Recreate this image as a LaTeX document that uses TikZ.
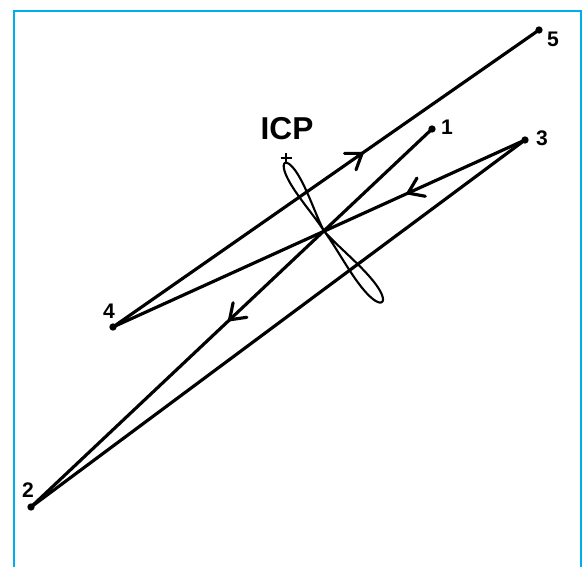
\documentclass[tikz,border=0pt]{standalone}
\usepackage{fontspec}
\setmainfont{Liberation Sans}
\usetikzlibrary{arrows.meta,decorations.markings}
\tikzset{
  dot/.style   ={circle, fill=black, inner sep=0pt, minimum size=2.2mm},
  num/.style   ={font=\fontsize{18}{18}\selectfont\bfseries, inner sep=0pt},
  big/.style   ={font=\fontsize{27}{27}\selectfont\bfseries, inner sep=0pt},
  fl/.style    ={line width=2.7pt, line cap=round},
  lp/.style    ={line width=1.8pt, line join=round},
  frame/.style ={line width=2pt, draw={rgb,255:red,0;green,174;blue,239}},
  barb/.tip    ={Straight Barb[length=4.3mm, width=6mm, line cap=round]},
  mid/.style   ={decoration={markings, mark=at position #1 with {\arrow{barb}}},
                 postaction={decorate}},
}

\begin{document}
\begin{tikzpicture}[x=0.03cm, y=-0.03cm]
  \useasboundingbox (0,0) rectangle (586,567);
  \draw[frame] (14,567) -- (14,11) -- (581,11) -- (581,567);

  % points of the path
  \node[dot](p1) at (432,129) {};
  \node[dot](p2) at (31,507)  {};
  \node[dot](p3) at (525,140) {};
  \node[dot](p4) at (113,327) {};
  \node[dot](p5) at (539,30)  {};
  \node[num](l1) at (447,127) {1};
  \node[num](l2) at (28,490)  {2};
  \node[num](l3) at (542,138) {3};
  \node[num](l4) at (109,311) {4};
  \node[num](l5) at (553,39)  {5};

  % centre of rotation
  \coordinate (icp) at (286,158);
  \node[big](licp) at (287,129) {ICP};
  \draw[line width=2pt] ([xshift=-5.5*0.03cm]icp) -- ([xshift=5.5*0.03cm]icp)
                        ([yshift=5*0.03cm]icp) -- ([yshift=-5*0.03cm]icp);

  \draw[fl, mid=0.51](p1.center) -- (p2.center);
  \draw[fl]          (p2.center) -- (p3.center);
  \draw[fl, mid=0.29](p3.center) -- (p4.center);
  \draw[fl, mid=0.59](p4.center) -- (p5.center);

  % figure-eight loop through the crossing
  \coordinate (x) at (324,231);
  \draw[lp] plot[domain=0:360, samples=120, smooth]
    ({324 - 19.5*(1-cos(\x)) + 3.68*sin(\x)*(1-cos(\x))},
     {231 - 34.0*(1-cos(\x)) - 2.11*sin(\x)*(1-cos(\x))});
  \draw[lp] plot[domain=0:360, samples=120, smooth]
    ({324 + 29.0*(1-cos(\x)) + 3.87*sin(\x)*(1-cos(\x))},
     {231 + 35.5*(1-cos(\x)) - 3.16*sin(\x)*(1-cos(\x))});
\end{tikzpicture}
\end{document}
